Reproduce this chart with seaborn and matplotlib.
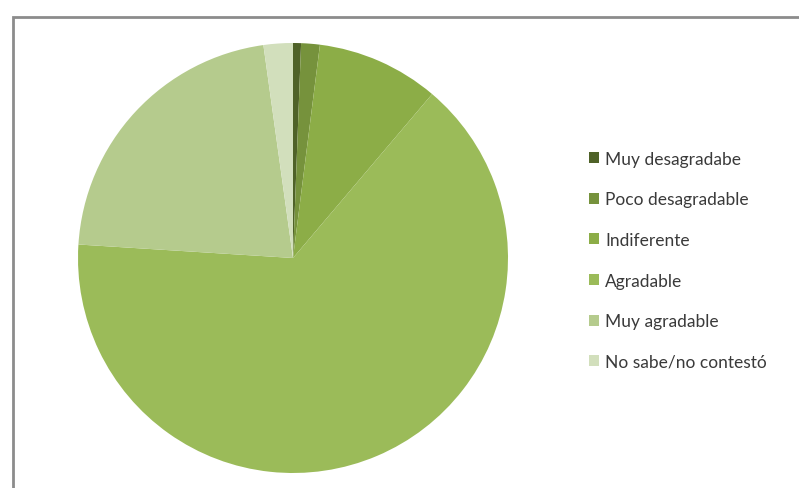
import matplotlib
matplotlib.use("Agg")
import matplotlib.pyplot as plt
from matplotlib.patches import Rectangle
import seaborn as sns

categories = ["Muy desagradabe", "Poco desagradable", "Indiferente",
              "Agradable", "Muy agradable", "No sabe/no contestó"]
shares = [0.6, 1.4, 9.2, 64.8, 21.8, 2.2]
colors = ["#4f6228", "#76923c", "#8cad47", "#9bbb59", "#b5cb8d", "#d2dfbc"]

sns.set_theme(style="white")
plt.rcParams["font.family"] = ["Lato", "DejaVu Sans"]

W, H = 799, 489
fig = plt.figure(figsize=(W / 100, H / 100), dpi=100)
fig.patch.set_facecolor("white")

# outer chart frame (left and top edges visible)
fig.add_artist(Rectangle((13 / W, -0.1), 1.2, (H - 18) / H + 0.1,
                         transform=fig.transFigure, fill=False,
                         edgecolor="#8c8c8c", linewidth=2))

cx, cy, r = 293, 259, 215
ax = fig.add_axes([(cx - r) / W, (H - cy - r) / H, 2 * r / W, 2 * r / H])
wedges, _ = ax.pie(shares, colors=colors, startangle=90, counterclock=False,
                   radius=1.0, wedgeprops=dict(linewidth=0, edgecolor="none"))
ax.set_xlim(-1, 1)
ax.set_ylim(-1, 1)
ax.set_aspect("equal")
ax.axis("off")

leg = fig.legend(wedges, categories, loc="upper left",
                 bbox_to_anchor=(573 / W, 1 - 136 / H),
                 frameon=False, fontsize=12.5, handlelength=0.6,
                 handleheight=0.6, handletextpad=0.35, labelspacing=1.42,
                 labelcolor="#3a3a3a")

fig.savefig("out.png", dpi=100, facecolor="white")
